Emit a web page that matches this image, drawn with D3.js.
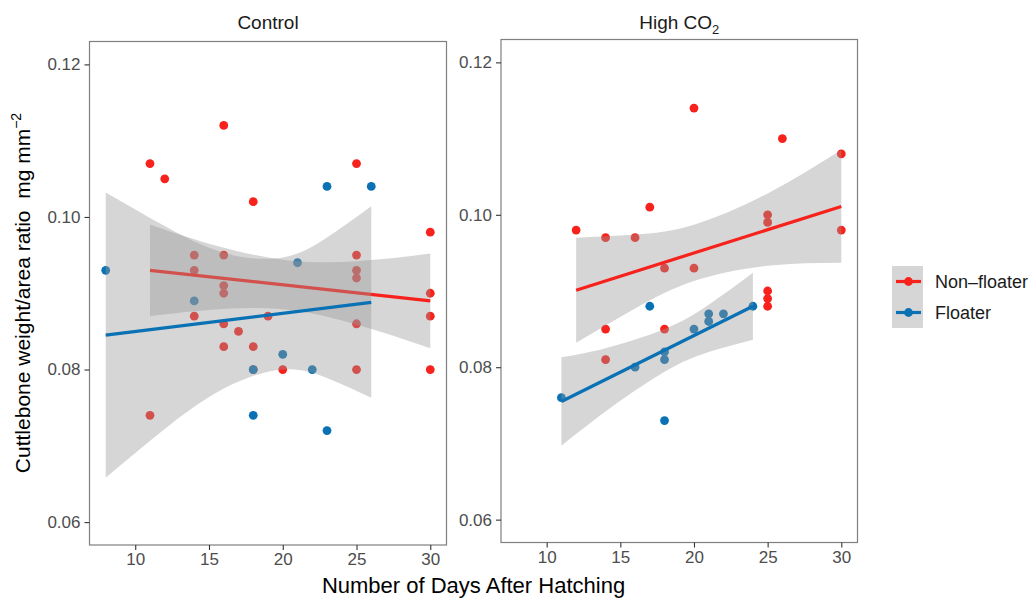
<!DOCTYPE html>
<html lang="en">
<head>
    <meta charset="UTF-8">
    <title>Cuttlebone weight/area ratio</title>
    <script src="https://d3js.org/d3.v7.min.js"></script>
    <style>
        body {
            margin: 0;
            background-color: #ffffff;
            font-family: 'Liberation Sans', Arial, Helvetica, sans-serif;
        }

        svg {
            display: block;
        }
    </style>
</head>
<body>
    <svg id="chart" width="1030" height="599"></svg>

    <script>
        // ---- data ----
        const dayTicks = [10, 15, 20, 25, 30];
        const ratioTicks = [0.06, 0.08, 0.10, 0.12];
        const groups = ["Non–floater", "Floater"];

        // Control
        const ctrlNonDays = [11, 12, 16, 18, 25, 30, 11, 14, 14, 14, 16, 16, 16, 16, 16, 17, 18, 18, 19, 20, 25, 25, 25, 25, 25, 30, 30, 30];
        const ctrlNonRatio = [0.107, 0.105, 0.112, 0.102, 0.107, 0.098, 0.074, 0.095, 0.093, 0.087, 0.095, 0.091, 0.090, 0.086, 0.083, 0.085, 0.083, 0.080, 0.087, 0.080, 0.095, 0.093, 0.092, 0.086, 0.080, 0.090, 0.087, 0.080];
        const ctrlFloatDays = [8, 14, 18, 18, 20, 21, 22, 23, 23, 26];
        const ctrlFloatRatio = [0.093, 0.089, 0.080, 0.074, 0.082, 0.094, 0.080, 0.104, 0.072, 0.104];

        // High CO2
        const co2NonDays = [12, 14, 16, 17, 20, 26, 30, 18, 20, 25, 25, 30, 25, 25, 25, 14, 18, 14];
        const co2NonRatio = [0.098, 0.097, 0.097, 0.101, 0.114, 0.110, 0.108, 0.093, 0.093, 0.100, 0.099, 0.098, 0.090, 0.089, 0.088, 0.085, 0.085, 0.081];
        const co2FloatDays = [17, 11, 16, 18, 18, 20, 21, 21, 22, 24, 18];
        const co2FloatRatio = [0.088, 0.076, 0.080, 0.082, 0.081, 0.085, 0.087, 0.086, 0.087, 0.088, 0.073];

        // fitted lines (end points) and confidence bands
        const ctrlNonFit = [[11, 0.0930], [30, 0.0890]];
        const ctrlFloatFit = [[8, 0.0845], [26, 0.0888]];
        const co2NonFit = [[12, 0.0901], [30, 0.1011]];
        const co2FloatFit = [[11, 0.0755], [24, 0.0880]];

        const ctrlNonBandDays = [11, 15, 20, 25, 30];
        const ctrlNonBandLo = [0.0870, 0.0878, 0.0879, 0.0859, 0.0828];
        const ctrlNonBandHi = [0.0990, 0.0965, 0.0944, 0.0942, 0.0952];
        const ctrlFloatBandDays = [8, 12, 16, 20, 23, 26];
        const ctrlFloatBandLo = [0.0658, 0.0722, 0.0775, 0.0800, 0.0789, 0.0763];
        const ctrlFloatBandHi = [0.1032, 0.0988, 0.0953, 0.0947, 0.0973, 0.1014];
        const co2NonBandDays = [12, 16, 20, 25, 30];
        const co2NonBandLo = [0.0832, 0.0877, 0.0913, 0.0933, 0.0937];
        const co2NonBandHi = [0.0970, 0.0974, 0.0987, 0.1028, 0.1085];
        const co2FloatBandDays = [11, 14, 18, 21, 24];
        const co2FloatBandLo = [0.0697, 0.0742, 0.0794, 0.0820, 0.0836];
        const co2FloatBandHi = [0.0813, 0.0825, 0.0850, 0.0882, 0.0924];

        const colors = {"Non–floater": "#f8221c", "Floater": "#0a72b4"};

        const zip = (xs, ys) => xs.map((x, i) => ({x: x, y: ys[i]}));
        const band = (xs, lo, hi) => xs.map((x, i) => ({x: x, lo: lo[i], hi: hi[i]}));

        const panels = [
            {
                title: "Control", sub: null,
                left: 89.5, right: 446.5, top: 41.5, bottom: 545,
                labelX: 80,
                series: [
                    {group: "Non–floater", pts: zip(ctrlNonDays, ctrlNonRatio), fit: ctrlNonFit, band: band(ctrlNonBandDays, ctrlNonBandLo, ctrlNonBandHi)},
                    {group: "Floater", pts: zip(ctrlFloatDays, ctrlFloatRatio), fit: ctrlFloatFit, band: band(ctrlFloatBandDays, ctrlFloatBandLo, ctrlFloatBandHi)}
                ]
            },
            {
                title: "High CO", sub: "2",
                left: 501, right: 857.5, top: 39.5, bottom: 542.5,
                labelX: 492,
                series: [
                    {group: "Non–floater", pts: zip(co2NonDays, co2NonRatio), fit: co2NonFit, band: band(co2NonBandDays, co2NonBandLo, co2NonBandHi)},
                    {group: "Floater", pts: zip(co2FloatDays, co2FloatRatio), fit: co2FloatFit, band: band(co2FloatBandDays, co2FloatBandLo, co2FloatBandHi)}
                ]
            }
        ];

        const svg = d3.select("#chart");

        panels.forEach(p => {
            const x = d3.scaleLinear().domain([6.9, 31.1]).range([p.left, p.right]);
            const y = d3.scaleLinear().domain([0.057, 0.123]).range([p.bottom, p.top]);
            const g = svg.append("g");

            // points first, ribbons on top of them (as geom_smooth does)
            p.series.forEach(s => {
                g.append("g").selectAll("circle")
                    .data(s.pts)
                    .enter().append("circle")
                    .attr("cx", d => x(d.x))
                    .attr("cy", d => y(d.y))
                    .attr("r", 4.4)
                    .attr("fill", colors[s.group]);
            });

            p.series.forEach(s => {
                const area = d3.area()
                    .x(d => x(d.x))
                    .y0(d => y(d.lo))
                    .y1(d => y(d.hi))
                    .curve(d3.curveNatural);
                g.append("path")
                    .datum(s.band)
                    .attr("d", area)
                    .attr("fill", "#999999")
                    .attr("fill-opacity", 0.4);

                g.append("path")
                    .datum(s.fit)
                    .attr("d", d3.line().x(d => x(d[0])).y(d => y(d[1])))
                    .attr("fill", "none")
                    .attr("stroke", colors[s.group])
                    .attr("stroke-width", 3.2);
            });

            // panel border
            g.append("rect")
                .attr("x", p.left)
                .attr("y", p.top)
                .attr("width", p.right - p.left)
                .attr("height", p.bottom - p.top)
                .attr("fill", "none")
                .attr("stroke", "#7f7f7f")
                .attr("stroke-width", 1.2);

            // axes
            const yAxis = g.append("g")
                .attr("transform", `translate(${p.left},0)`)
                .call(d3.axisLeft(y).tickValues(ratioTicks).tickFormat(d3.format(".2f")).tickSize(5).tickPadding(4));
            const xAxis = g.append("g")
                .attr("transform", `translate(0,${p.bottom})`)
                .call(d3.axisBottom(x).tickValues(dayTicks).tickSize(5).tickPadding(3));

            [yAxis, xAxis].forEach(a => {
                a.select(".domain").remove();
                a.selectAll(".tick line").attr("stroke", "#333333").attr("stroke-width", 1.1);
                a.selectAll(".tick text")
                    .attr("fill", "#4d4d4d")
                    .style("font-family", "'Liberation Sans', Arial, sans-serif")
                    .style("font-size", "17px");
            });

            // panel title
            const t = svg.append("text")
                .attr("x", (p.left + p.right) / 2)
                .attr("y", 29)
                .attr("text-anchor", "middle")
                .style("font-size", "19px")
                .attr("fill", "#1a1a1a")
                .text(p.title);
            if (p.sub) {
                t.append("tspan")
                    .attr("dy", 5)
                    .style("font-size", "13px")
                    .text(p.sub);
            }
        });

        // axis titles
        svg.append("text")
            .attr("x", 473.5)
            .attr("y", 593)
            .attr("text-anchor", "middle")
            .style("font-size", "22px")
            .attr("fill", "#000")
            .text("Number of Days After Hatching");

        const yTitle = svg.append("text")
            .attr("transform", "translate(30,293) rotate(-90)")
            .attr("text-anchor", "middle")
            .style("font-size", "21px")
            .attr("fill", "#000");
        yTitle.append("tspan").text("Cuttlebone weight/area ratio\u00a0\u00a0mg mm");
        yTitle.append("tspan")
            .attr("dy", -9)
            .style("font-size", "14px")
            .text("−2");

        // legend
        const legend = svg.append("g").attr("transform", "translate(892,266)");
        groups.forEach((grp, i) => {
            const k = legend.append("g").attr("transform", `translate(0,${i * 31})`);
            k.append("rect")
                .attr("width", 31)
                .attr("height", 31)
                .attr("fill", "#999999")
                .attr("fill-opacity", 0.4);
            k.append("line")
                .attr("x1", 4).attr("x2", 29)
                .attr("y1", 15.5).attr("y2", 15.5)
                .attr("stroke", colors[grp])
                .attr("stroke-width", 3.2);
            k.append("circle")
                .attr("cx", 16.5).attr("cy", 15.5)
                .attr("r", 4.4)
                .attr("fill", colors[grp]);
            k.append("text")
                .attr("x", 43)
                .attr("y", 15.5)
                .attr("dy", "0.35em")
                .style("font-size", "18px")
                .attr("fill", "#1a1a1a")
                .text(grp);
        });
    </script>
</body>
</html>
